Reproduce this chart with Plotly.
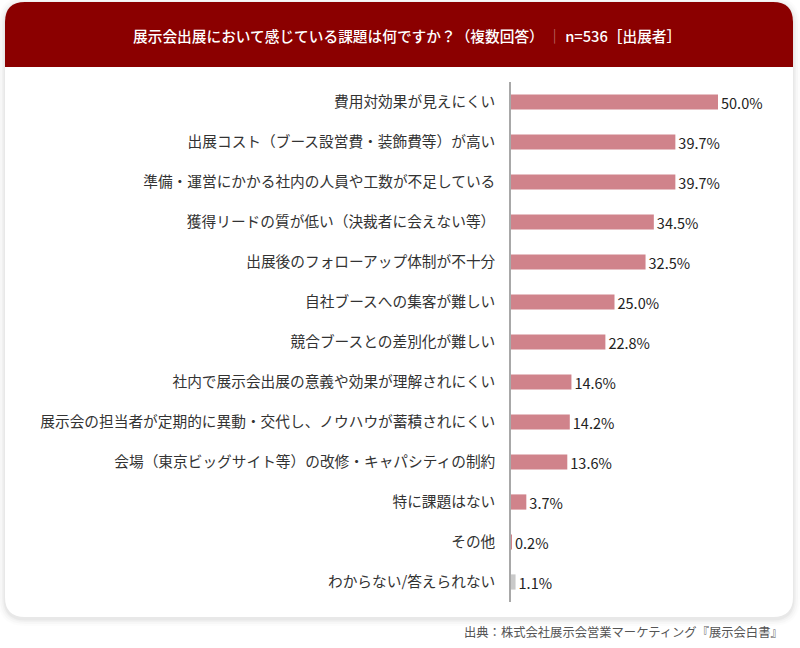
import plotly.graph_objects as go

# data
categories = [
    "費用対効果が見えにくい",
    "出展コスト（ブース設営費・装飾費等）が高い",
    "準備・運営にかかる社内の人員や工数が不足している",
    "獲得リードの質が低い（決裁者に会えない等）",
    "出展後のフォローアップ体制が不十分",
    "自社ブースへの集客が難しい",
    "競合ブースとの差別化が難しい",
    "社内で展示会出展の意義や効果が理解されにくい",
    "展示会の担当者が定期的に異動・交代し、ノウハウが蓄積されにくい",
    "会場（東京ビッグサイト等）の改修・キャパシティの制約",
    "特に課題はない",
    "その他",
    "わからない/答えられない",
]
values = [50.0, 39.7, 39.7, 34.5, 32.5, 25.0, 22.8, 14.6, 14.2, 13.6, 3.7, 0.2, 1.1]

title_main = "展示会出展において感じている課題は何ですか？（複数回答）"
title_sep = "｜"
title_tail = "n=536［出展者］"
source_text = "出典：株式会社展示会営業マーケティング『展示会白書』"

PINK = "#D0838B"
GRAY = "#C9C9C9"
HEADER = "#8B0000"
FONT = "Noto Sans CJK JP"

W, H = 800, 648
L, R, T, B = 511, 39, 82, 46
PW = W - L - R
PH = H - T - B


def px(x):
    return (x - L) / PW


def py(y):
    return (H - B - y) / PH


def rrect(x0, y0, x1, y1, rt, rb):
    # rounded rectangle path in pixel coords -> paper coords
    pts = [
        ("M", [(x0 + rt, y0)]),
        ("L", [(x1 - rt, y0)]),
        ("Q", [(x1, y0), (x1, y0 + rt)]),
        ("L", [(x1, y1 - rb)]),
        ("Q", [(x1, y1), (x1 - rb, y1)]),
        ("L", [(x0 + rb, y1)]),
        ("Q", [(x0, y1), (x0, y1 - rb)]),
        ("L", [(x0, y0 + rt)]),
        ("Q", [(x0, y0), (x0 + rt, y0)]),
    ]
    s = ""
    for cmd, ps in pts:
        s += cmd + " " + " ".join(f"{px(a):.5f},{py(b):.5f}" for a, b in ps) + " "
    return s + "Z"


colors = [PINK] * (len(values) - 1) + [GRAY]

fig = go.Figure()
fig.add_trace(go.Bar(
    x=values,
    y=categories,
    orientation="h",
    marker=dict(color=colors, line=dict(width=0)),
    texttemplate="%{x:.1f}%",
    textposition="outside",
    constraintext="none",
    textfont=dict(family=FONT, size=14.5, color="#222222"),
    cliponaxis=False,
    hoverinfo="skip",
))

shapes = []
# soft shadow around the card
for grow, alpha in [(7, 0.012), (5, 0.018), (3, 0.025), (1.5, 0.035)]:
    shapes.append(dict(
        type="path", xref="paper", yref="paper", layer="below",
        path=rrect(5 - grow, 2 - grow + 2, 793 + grow, 617 + grow + 2, 20 + grow, 20 + grow),
        fillcolor=f"rgba(0,0,0,{alpha})", line=dict(width=0),
    ))
# card
shapes.append(dict(
    type="path", xref="paper", yref="paper", layer="below",
    path=rrect(5, 2, 793, 617, 20, 20),
    fillcolor="white", line=dict(width=0),
))
# header band
shapes.append(dict(
    type="path", xref="paper", yref="paper", layer="below",
    path=rrect(5, 2, 793, 67, 20, 0),
    fillcolor=HEADER, line=dict(width=0),
))

title_html = (title_main + " <span style='color:#c87878'>" + title_sep + "</span> " + title_tail)

fig.update_layout(
    width=W, height=H,
    margin=dict(l=L, r=R, t=T, b=B),
    paper_bgcolor="white",
    plot_bgcolor="rgba(0,0,0,0)",
    showlegend=False,
    bargap=0.62,
    shapes=shapes,
    xaxis=dict(visible=False, range=[0, PW / 4.14]),
    yaxis=dict(
        autorange="reversed",
        showline=True, linecolor="#A8A8A8", linewidth=1.5,
        ticks="", showgrid=False, zeroline=False,
        ticklabelstandoff=11,
        tickfont=dict(family=FONT, size=14.7, color="#333333"),
    ),
    annotations=[
        dict(text=title_html, xref="paper", yref="paper",
             x=px(407), y=py(35), xanchor="center", yanchor="middle",
             showarrow=False,
             font=dict(family=FONT, size=14.7, color="white", weight=500)),
        dict(text=source_text, xref="paper", yref="paper",
             x=px(785), y=py(632), xanchor="right", yanchor="middle",
             showarrow=False,
             font=dict(family=FONT, size=12.3, color="#555555")),
    ],
)

fig.write_html("out.html", config={"displayModeBar": False},
               post_script="document.body.style.margin='0px';")
